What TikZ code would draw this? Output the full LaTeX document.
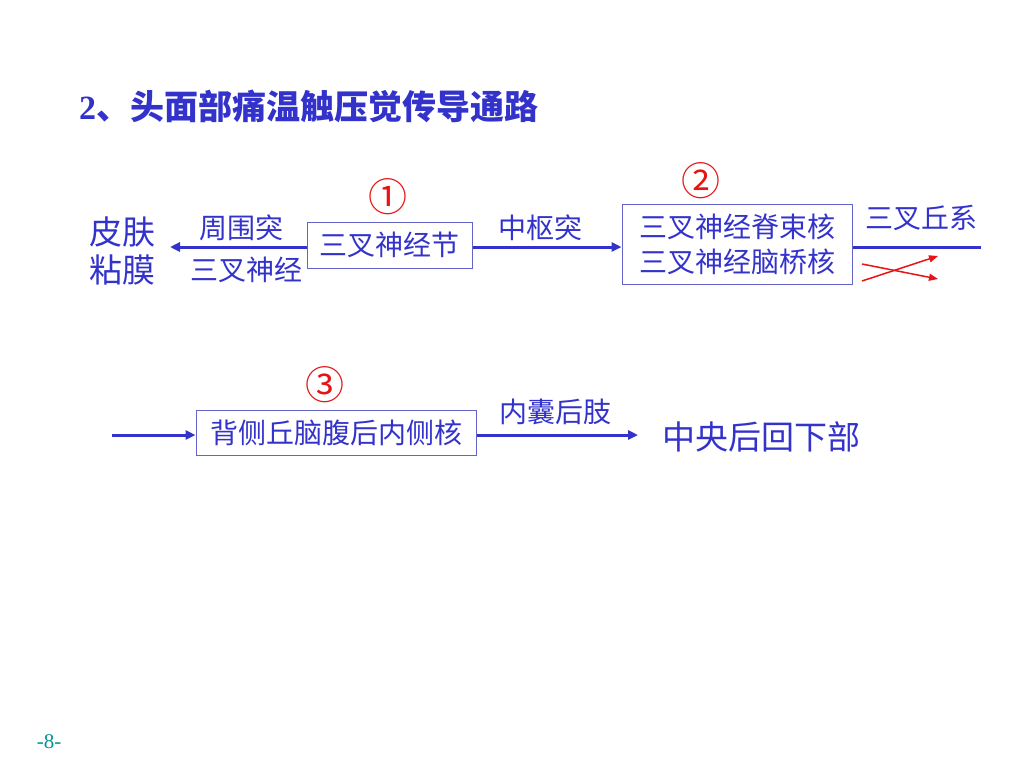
\documentclass[tikz,border=0pt]{standalone}
\usepackage{fontspec}
\setmainfont{Liberation Serif}
\newfontfamily\cjk{Noto Sans CJK SC}
\usetikzlibrary{arrows.meta}
\definecolor{txtblue}{RGB}{51,51,204}
\definecolor{boxblue}{RGB}{100,100,200}
\definecolor{numred}{RGB}{230,20,20}
\definecolor{pgteal}{RGB}{0,150,150}
\tikzset{
  lbl/.style={text=txtblue,font=\cjk\fontsize{28}{35}\selectfont,inner sep=0pt},
  biglbl/.style={text=txtblue,font=\cjk\fontsize{33}{38}\selectfont,inner sep=0pt},
  nucbox/.style={draw=boxblue,line width=1pt,text=txtblue,font=\cjk\fontsize{28}{35}\selectfont,align=center,inner sep=0pt},
  num/.style={text=numred,font=\cjk\fontsize{39}{40}\selectfont,inner sep=0pt},
  path/.style={draw=txtblue,line width=3pt,-{Triangle[length=10pt,width=9pt]}},
  cross/.style={draw=numred,line width=1.5pt,-{Triangle[length=9pt,width=7pt]}}
}
\begin{document}
\begin{tikzpicture}[x=1pt,y=-1pt]
    \useasboundingbox[fill=white] (0,0) rectangle (1024,768);
    \node[anchor=west,text=txtblue,inner sep=0pt] (ti) at (79,106) {\fontsize{34}{36}\selectfont\bfseries 2\cjk 、头面部痛温触压觉传导通路};
    % first row
    \node[biglbl] (pa) at (122,232) {皮肤};
    \node[biglbl] (pb) at (122,270) {粘膜};
    \node[nucbox,minimum width=165pt,minimum height=46pt] (aa) at (389.5,245) {三叉神经节};
    \node[num] (na) at (388,197) {①};
    \node[nucbox,minimum width=230pt,minimum height=80pt] (ab) at (737,244) {三叉神经脊束核\\三叉神经脑桥核};
    \node[num] (nb) at (701,181) {②};
    \node[lbl] (la) at (241,228) {周围突};
    \node[lbl] (lb) at (246,270) {三叉神经};
    \node[lbl] (lc) at (540,228) {中枢突};
    \node[lbl] (ld) at (921,218) {三叉丘系};
    \coordinate (ca) at (170,247);
    \coordinate (cb) at (981,247);
    \draw[path] (aa.west|-ca) -- (ca);
    \draw[path] (aa.east|-ca) -- (ab.west|-ca);
    \draw[path,-] (ab.east|-cb) -- (cb);
    \coordinate (ra) at (862,264);
    \coordinate (rb) at (938,279);
    \coordinate (rc) at (862,281);
    \coordinate (rd) at (938,256);
    \draw[cross] (ra) -- (rb);
    \draw[cross] (rc) -- (rd);
    % second row
    \node[nucbox,minimum width=280pt,minimum height=45pt] (ac) at (336,432.5) {背侧丘脑腹后内侧核};
    \node[num] (nc) at (325,385) {③};
    \node[lbl] (le) at (555,412) {内囊后肢};
    \node[biglbl,anchor=west] (pc) at (662,437) {中央后回下部};
    \coordinate (cc) at (112,435);
    \coordinate (cd) at (638,435);
    \draw[path] (cc) -- (ac.west|-cc);
    \draw[path] (ac.east|-cd) -- (cd);
    \node[text=pgteal,font=\fontsize{21}{24}\selectfont,inner sep=0pt] (pg) at (49,742) {-8-};
\end{tikzpicture}
\end{document}
